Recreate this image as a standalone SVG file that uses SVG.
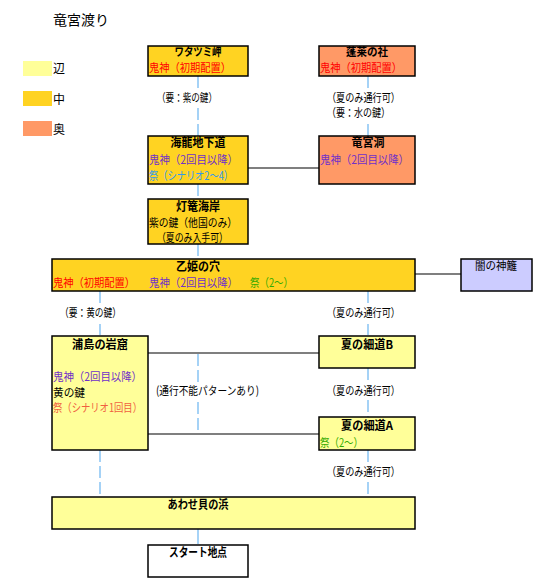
<svg xmlns="http://www.w3.org/2000/svg" width="560" height="583" viewBox="0 0 560 583">
<style>
text{font-family:"Noto Sans CJK JP","Noto Sans CJK SC",sans-serif;font-size:11.5px;fill:#000}
.h{font-weight:bold;font-size:12px;text-anchor:middle}
.n{stroke:#000;stroke-width:1.5}
.e{fill:#FFFF99}.m{fill:#FFD322}.o{fill:#FF9966}.y{fill:#CCCCFF}.w{fill:#FFFFFF}
.red{fill:#FF0000}.pur{fill:#7030C8}.blu{fill:#3399EE}.grn{fill:#33AA00}.org{fill:#F06040}
.d{stroke:#88C4F4;stroke-width:1.5;stroke-dasharray:12 4;fill:none}
.s{stroke:#000;stroke-width:1.2;fill:none}
.bg{fill:#fff}
</style>
<rect width="560" height="583" fill="#fff"/>
<text x="53" y="25" style="font-size:14px">竜宮渡り</text>
<g id="legend">
<rect x="23" y="61" width="29" height="15" class="e"/><text x="53" y="73" style="font-size:12px">辺</text>
<rect x="23" y="91" width="29" height="15" class="m"/><text x="53" y="104" style="font-size:12px">中</text>
<rect x="23" y="121" width="29" height="15" class="o"/><text x="53" y="134" style="font-size:12px">奥</text>
</g>
<g id="connectors">
<line x1="198" y1="76" x2="198" y2="136" class="d"/>
<line x1="368" y1="76" x2="368" y2="136" class="d"/>
<line x1="198" y1="184" x2="198" y2="199" class="d"/>
<line x1="198" y1="244" x2="198" y2="259" class="d"/>
<line x1="100" y1="291" x2="100" y2="336" class="d"/>
<line x1="368" y1="291" x2="368" y2="336" class="d"/>
<line x1="198" y1="354" x2="198" y2="433" class="d"/>
<line x1="368" y1="368" x2="368" y2="417" class="d"/>
<line x1="100" y1="450" x2="100" y2="497" class="d"/>
<line x1="368" y1="450" x2="368" y2="497" class="d"/>
<line x1="198" y1="529" x2="198" y2="544" class="d" style="stroke-dasharray:none"/>
<line x1="248" y1="168" x2="319" y2="168" class="s"/>
<line x1="415" y1="274" x2="461" y2="274" class="s"/>
<line x1="148" y1="353" x2="319" y2="353" class="s"/>
<line x1="148" y1="434" x2="319" y2="434" class="s"/>
<rect x="155" y="89" width="64" height="16" class="bg"/>
<text x="157" y="102" textLength="60" lengthAdjust="spacingAndGlyphs">（要：紫の鍵）</text>
<rect x="325" y="89" width="78" height="32" class="bg"/>
<text x="327" y="102" textLength="73" lengthAdjust="spacingAndGlyphs">（夏のみ通行可）</text>
<text x="327" y="117" textLength="63" lengthAdjust="spacingAndGlyphs">（要：水の鍵）</text>
<rect x="58" y="303" width="66" height="21" class="bg"/>
<text x="60" y="317" textLength="61" lengthAdjust="spacingAndGlyphs">（要：黄の鍵）</text>
<rect x="325" y="303" width="78" height="21" class="bg"/>
<text x="327" y="317" textLength="73" lengthAdjust="spacingAndGlyphs">（夏のみ通行可）</text>
<rect x="154" y="382" width="108" height="18" class="bg"/>
<text x="156" y="395" textLength="103" lengthAdjust="spacingAndGlyphs">(通行不能パターンあり)</text>
<rect x="325" y="382" width="78" height="18" class="bg"/>
<text x="327" y="395" textLength="73" lengthAdjust="spacingAndGlyphs">（夏のみ通行可）</text>
<rect x="325" y="463" width="78" height="18" class="bg"/>
<text x="327" y="476" textLength="73" lengthAdjust="spacingAndGlyphs">（夏のみ通行可）</text>
</g>
<g id="watatsumi">
<rect x="148" y="46" width="100" height="30" class="n m"/>
<text x="198" y="56" class="h" style="font-size:11.5px" textLength="47" lengthAdjust="spacingAndGlyphs">ワタツミ岬</text>
<text x="149" y="72" class="red" textLength="82" lengthAdjust="spacingAndGlyphs">鬼神（初期配置）</text>
</g>
<g id="horai">
<rect x="319" y="46" width="96" height="30" class="n o"/>
<text x="367" y="56" class="h" style="font-size:11.5px" textLength="42" lengthAdjust="spacingAndGlyphs">蓬莱の社</text>
<text x="320" y="72" class="red" textLength="82" lengthAdjust="spacingAndGlyphs">鬼神（初期配置）</text>
</g>
<g id="kairyu">
<rect x="148" y="136" width="100" height="48" class="n m"/>
<text x="198" y="147" class="h" textLength="55" lengthAdjust="spacingAndGlyphs">海龍地下道</text>
<text x="149" y="164" class="pur" textLength="89" lengthAdjust="spacingAndGlyphs">鬼神（2回目以降）</text>
<text x="149" y="180" class="blu" textLength="84" lengthAdjust="spacingAndGlyphs">祭（シナリオ2～4）</text>
</g>
<g id="ryuguudou">
<rect x="319" y="136" width="96" height="48" class="n o"/>
<text x="368" y="147" class="h" textLength="33" lengthAdjust="spacingAndGlyphs">竜宮洞</text>
<text x="320" y="164" class="pur" textLength="89" lengthAdjust="spacingAndGlyphs">鬼神（2回目以降）</text>
</g>
<g id="tourou">
<rect x="148" y="199" width="100" height="45" class="n m"/>
<text x="198" y="211" class="h" textLength="44" lengthAdjust="spacingAndGlyphs">灯篭海岸</text>
<text x="149" y="227" textLength="88" lengthAdjust="spacingAndGlyphs">紫の鍵（他国のみ）</text>
<text x="157" y="242" textLength="71" lengthAdjust="spacingAndGlyphs">（夏のみ入手可）</text>
</g>
<g id="otohime">
<rect x="52" y="259" width="363" height="32" class="n m"/>
<text x="198" y="271" class="h" textLength="44" lengthAdjust="spacingAndGlyphs">乙姫の穴</text>
<text x="53" y="287" class="red" textLength="82" lengthAdjust="spacingAndGlyphs">鬼神（初期配置）</text>
<text x="149" y="287" class="pur" textLength="89" lengthAdjust="spacingAndGlyphs">鬼神（2回目以降）</text>
<text x="250" y="287" class="grn" textLength="43" lengthAdjust="spacingAndGlyphs">祭（2～）</text>
</g>
<g id="yami">
<rect x="461" y="259" width="71" height="32" class="n y"/>
<text x="496" y="270" text-anchor="middle" textLength="42" lengthAdjust="spacingAndGlyphs">闇の神籬</text>
</g>
<g id="urashima">
<rect x="52" y="336" width="96" height="114" class="n e"/>
<text x="100" y="349" class="h" textLength="56" lengthAdjust="spacingAndGlyphs">浦島の岩窟</text>
<text x="53" y="381" class="pur" textLength="89" lengthAdjust="spacingAndGlyphs">鬼神（2回目以降）</text>
<text x="53" y="397" textLength="32" lengthAdjust="spacingAndGlyphs">黄の鍵</text>
<text x="53" y="412" class="org" textLength="89" lengthAdjust="spacingAndGlyphs">祭（シナリオ1回目）</text>
</g>
<g id="hosomichiB">
<rect x="319" y="336" width="96" height="32" class="n e"/>
<text x="367" y="349" class="h" textLength="52" lengthAdjust="spacingAndGlyphs">夏の細道B</text>
</g>
<g id="hosomichiA">
<rect x="319" y="417" width="96" height="33" class="n e"/>
<text x="367" y="430" class="h" textLength="52" lengthAdjust="spacingAndGlyphs">夏の細道A</text>
<text x="320" y="447" class="grn" textLength="43" lengthAdjust="spacingAndGlyphs">祭（2～）</text>
</g>
<g id="awase">
<rect x="52" y="497" width="363" height="32" class="n e"/>
<text x="198" y="509" class="h" textLength="61" lengthAdjust="spacingAndGlyphs">あわせ貝の浜</text>
</g>
<g id="start">
<rect x="148" y="545" width="100" height="32" class="n w"/>
<text x="198" y="557" class="h" textLength="58" lengthAdjust="spacingAndGlyphs">スタート地点</text>
</g>
</svg>
